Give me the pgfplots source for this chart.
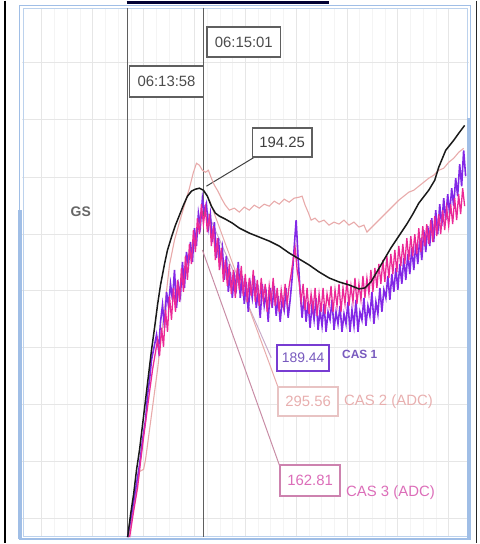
\documentclass[border=0pt]{standalone}
\usepackage{pgfplots}
\pgfplotsset{compat=1.18}
\usepackage{fontspec}
\setmainfont{Liberation Sans}
\definecolor{casone}{RGB}{130,40,230}
\definecolor{casthree}{RGB}{235,40,150}
\definecolor{castwo}{RGB}{232,170,170}
\definecolor{frameblue}{RGB}{160,190,230}
\definecolor{gridc}{RGB}{230,230,230}
\definecolor{gridm}{RGB}{244,244,244}
\definecolor{cursor}{RGB}{95,95,95}
\definecolor{leadone}{RGB}{200,170,200}
\definecolor{leadthree}{RGB}{200,140,165}
\definecolor{boxone}{RGB}{120,60,210}
\definecolor{txtone}{RGB}{120,90,190}
\definecolor{boxtwo}{RGB}{232,195,195}
\definecolor{txttwo}{RGB}{232,175,175}
\definecolor{boxthree}{RGB}{205,130,175}
\definecolor{txtthree}{RGB}{220,110,185}

\pgfplotstableread{
x y
128 538
131 515
134 495
137 470
140 450
143 425
146 400
149 375
152 350
155 328
158 305
161 285
165 264
168 250
172 237
176 225
180 215
184 205
188 196
192 191
196 189
200 188
204 190
208 196
212 206
216 213
220 216
226 219
233 223
240 228
250 233
260 237
270 241
280 246
290 253
300 259
310 265
320 272
330 278
340 282
350 285
360 289
366 288
372 282
378 272
385 260
392 248
400 236
408 224
414 214
420 203
430 190
436 180
440 167
447 150
455 140
460 133
466 125
}\gsdata

\pgfplotstableread{
x y
129 538
133 515
137 490
140 472
144 470
146 460
150 430
154 400
158 370
162 335
166 300
170 265
175 240
180 222
185 205
190 188
194 172
197 163
200 165
203 170
206 172
209 170
212 178
215 185
218 190
222 198
226 205
230 210
235 208
240 212
245 207
250 210
255 205
260 208
265 204
270 206
275 201
280 204
285 199
290 202
295 198
300 197
303 196
306 205
309 212
312 220
316 218
320 222
325 220
330 225
335 222
340 224
345 220
350 225
355 222
360 227
365 225
368 232
372 228
376 224
380 220
385 215
390 210
395 205
400 200
405 196
410 192
415 190
420 186
425 182
430 178
435 175
440 170
445 168
450 162
455 158
460 152
465 148
}\castwodata

\pgfplotstableread{
x y
128 538
132 515
136 490
140 465
143 440
146 420
148 395
150 380
152 360
155 345
157 335
159 350
161 322
163 305
165 328
167 292
169 306
171 284
173 300
175 270
177 308
179 285
181 296
183 262
185 288
187 252
189 266
191 242
193 262
195 228
197 246
199 213
201 226
203 198
205 212
207 204
209 228
211 214
213 242
215 222
217 258
219 238
221 262
223 248
225 280
227 256
229 292
231 272
233 298
235 276
237 288
239 262
241 298
243 276
245 304
247 282
249 312
251 284
253 298
255 276
257 308
259 292
261 318
263 284
265 306
267 294
269 322
271 288
273 308
275 286
277 316
279 296
281 322
283 300
285 310
287 288
289 318
291 300
293 278
295 248
297 220
299 258
301 292
303 318
305 296
307 322
309 302
311 328
313 304
315 320
317 298
319 330
321 310
323 326
325 304
327 332
329 312
331 320
333 300
335 330
337 312
339 324
341 306
343 332
345 314
347 324
349 302
351 332
353 310
355 326
357 300
359 332
361 312
363 320
365 298
367 326
369 306
371 316
373 292
375 324
377 302
379 314
381 288
383 312
385 290
387 298
389 276
391 300
393 274
395 292
397 268
399 290
401 264
403 284
405 258
407 280
409 254
411 274
413 248
415 270
417 244
419 264
421 238
423 260
425 230
427 252
429 226
431 246
433 218
435 242
437 210
439 234
441 204
443 226
445 198
447 220
449 194
451 214
453 188
455 206
457 178
459 196
461 164
463 186
465 150
467 176
}\casonedata

\pgfplotstableread{
x y
130 538
134 512
138 488
141 462
144 438
147 415
150 392
153 370
156 352
158 340
160 356
162 328
164 347
166 310
168 332
170 296
172 320
174 288
176 312
178 280
180 302
182 268
184 292
186 256
188 280
190 244
192 264
194 230
196 252
198 218
200 234
202 204
204 224
206 208
208 232
210 214
212 246
214 226
216 260
218 238
220 270
222 248
224 282
226 260
228 286
230 264
232 294
234 270
236 298
238 268
240 290
242 266
244 296
246 274
248 302
250 278
252 296
254 270
256 302
258 280
260 306
262 278
264 300
266 284
268 312
270 286
272 302
274 278
276 306
278 288
280 312
282 290
284 306
286 284
288 304
290 286
292 274
294 260
296 248
298 270
300 282
302 302
304 284
306 310
308 288
310 314
312 294
314 310
316 288
318 316
320 294
322 312
324 288
326 314
328 294
330 306
332 286
334 312
336 290
338 306
340 284
342 312
344 288
346 304
348 280
350 306
352 286
354 302
356 278
358 304
360 284
362 300
364 276
366 298
368 278
370 294
372 270
374 292
376 268
378 288
380 264
382 284
384 260
386 282
388 256
390 278
392 254
394 274
396 250
398 272
400 246
402 266
404 244
406 264
408 238
410 260
412 236
414 256
416 234
418 254
420 228
422 252
424 226
426 246
428 224
430 244
432 220
434 242
436 216
438 236
440 214
442 234
444 210
446 230
448 208
450 226
452 204
454 224
456 198
458 220
460 194
462 214
464 188
466 206
}\casthreedata

\begin{document}
\begin{tikzpicture}
\begin{axis}[
  scale only axis, width=448bp, height=531bp,
  xmin=22, xmax=470, ymin=7, ymax=538, y dir=reverse,
  axis line style={draw=none},
  xtick={42,93,144,195,246,297,348,399,450},
  ytick={62,119,177,234,291,348,405,462,519},
  minor x tick num=3, minor y tick num=3,
  grid=both,
  major grid style={gridc, line width=0.9pt},
  minor grid style={gridm, line width=0.5pt},
  xticklabels={}, yticklabels={},
  major tick length=0pt, minor tick length=0pt,
  clip=false,
]
% bounding box of the whole screenshot
\path (axis cs:0,0) rectangle (axis cs:481,544);
% frame decorations
\draw[black, line width=1.5pt] (axis cs:5,0) -- (axis cs:5,544);
\draw[black!85, line width=1.2pt] (axis cs:478,0) -- (axis cs:478,544);
\draw[black!80!blue, line width=3pt] (axis cs:127,1.5) -- (axis cs:330,1.5);
\draw[frameblue, line width=1pt] (axis cs:20,5) rectangle (axis cs:472,540);
\draw[frameblue!70, line width=0.8pt] (axis cs:23,8) rectangle (axis cs:469,537);
\draw[frameblue, line width=4pt] (axis cs:20.5,210) -- (axis cs:20.5,540);
\draw[frameblue, line width=4pt] (axis cs:470.5,118) -- (axis cs:470.5,540);
\draw[frameblue, line width=2pt] (axis cs:20,540) -- (axis cs:472,540);
% cursors
\draw[cursor, line width=1.3pt] (axis cs:128,7) -- (axis cs:128,538);
\draw[cursor, line width=1.3pt] (axis cs:204,7) -- (axis cs:204,538);
% leader lines
\draw[black!75, line width=1pt] (axis cs:207,186) -- (axis cs:255,157);
\draw[leadone, line width=1pt] (axis cs:205,205) -- (axis cs:272,358);
\draw[castwo, line width=1pt] (axis cs:210,200) -- (axis cs:279,388);
\draw[leadthree, line width=1pt] (axis cs:203,250) -- (axis cs:281,468);
% series
\addplot[castwo, line width=1.1pt] table {\castwodata};
\addplot[casone, line width=1.6pt] table {\casonedata};
\addplot[casthree, line width=1.3pt] table {\casthreedata};
\addplot[black!90, line width=1.5pt] table {\gsdata};
% labels
\node[draw=cursor, line width=1.5pt, fill=white, text=black!70, inner sep=1pt, minimum width=74bp, minimum height=30bp, font=\fontsize{15}{16}\selectfont] at (axis cs:244.5,41.5) {06:15:01};
\node[draw=cursor, line width=1.5pt, fill=white, text=black!70, inner sep=1pt, minimum width=74bp, minimum height=31bp, font=\fontsize{15}{16}\selectfont] at (axis cs:167,81) {06:13:58};
\node[draw=cursor, line width=1.5pt, fill=white, text=black!75, inner sep=1pt, minimum width=60bp, minimum height=29bp, font=\fontsize{15}{16}\selectfont] at (axis cs:283,142) {194.25};
\node[draw=boxone, line width=1.8pt, fill=white, text=txtone, inner sep=1pt, minimum width=52bp, minimum height=26bp, font=\fontsize{14}{15}\selectfont] at (axis cs:304,358) {189.44};
\node[draw=boxtwo, line width=1.5pt, fill=white, text=txttwo, inner sep=1pt, minimum width=60bp, minimum height=29bp, font=\fontsize{15}{16}\selectfont] at (axis cs:309,402) {295.56};
\node[draw=boxthree, line width=1.5pt, fill=white, text=txtthree, inner sep=1pt, minimum width=60bp, minimum height=31bp, font=\fontsize{15}{16}\selectfont] at (axis cs:311,481) {162.81};
\node[anchor=west, text=txtone, font=\fontsize{12}{13}\selectfont\bfseries, inner sep=0pt] at (axis cs:343,355) {CAS 1};
\node[anchor=west, text=txttwo, font=\fontsize{15}{16}\selectfont, inner sep=0pt] at (axis cs:345,402) {CAS 2 (ADC)};
\node[anchor=west, text=txtthree, font=\fontsize{15}{16}\selectfont, inner sep=0pt] at (axis cs:347,493) {CAS 3 (ADC)};
\node[text=black!60, font=\fontsize{14}{15}\selectfont\bfseries] at (axis cs:81,212) {GS};
\end{axis}
\end{tikzpicture}
\end{document}
